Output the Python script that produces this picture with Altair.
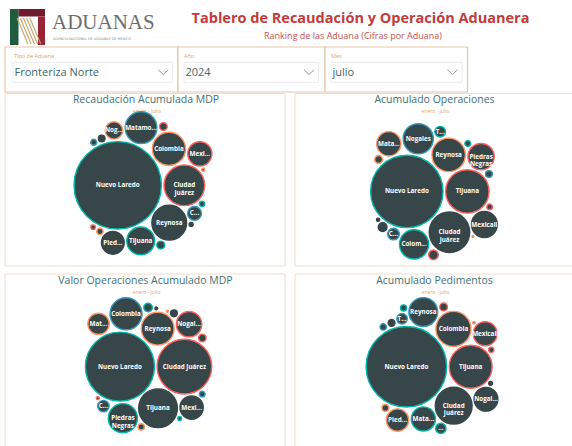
import math
import altair as alt
import pandas as pd

W, H = 572, 446

# ---------------- data ----------------
header_title = "Tablero de Recaudación y Operación Aduanera"
header_subtitle = "Ranking de las Aduana (Cifras por Aduana)"
logo_word = "ADUANAS"
logo_sub = "AGENCIA NACIONAL DE ADUANAS DE MÉXICO"

slicer_labels = ["Tipo de Aduana", "Año", "Mes"]
slicer_values = ["Fronteriza Norte", "2024", "julio"]
periodo = "enero - julio"

panel_titles = ["Recaudación Acumulada MDP", "Acumulado Operaciones",
                "Valor Operaciones Acumulado MDP", "Acumulado Pedimentos"]

# Recaudación Acumulada MDP
rec_names = ["Nuevo Laredo", "Ciudad Juárez", "Reynosa", "Colombia", "Matamoros",
             "Tijuana", "Mexicali", "Piedras Negras", "Nogales", "Ciudad Acuña",
             "Tecate", "Agua Prieta", "San Luis Río Colorado", "Ojinaga", "Sonoyta",
             "Ciudad Camargo", "Ciudad Miguel Alemán", "Naco", "Puerto Palomas"]
rec_values = [77440, 16810, 12250, 11160, 10240, 7840, 5950, 5290, 3100, 1960,
              640, 610, 440, 410, 360, 290, 210, 160, 90]
rec_labels = ["Nuevo Laredo", "Ciudad\nJuárez", "Reynosa", "Colombia", "Matamo...",
              "Tijuana", "Mexi...", "Pied...", "Nog...", "C...",
              "", "", "", "", "", "", "", "", ""]

# Acumulado Operaciones
ope_names = ["Nuevo Laredo", "Tijuana", "Ciudad Juárez", "Reynosa", "Nogales",
             "Colombia", "Piedras Negras", "Mexicali", "Matamoros", "Ciudad Acuña",
             "Tecate", "San Luis Río Colorado", "Agua Prieta", "Ojinaga", "Sonoyta",
             "Ciudad Camargo", "Naco", "Ciudad Miguel Alemán", "Puerto Palomas"]
ope_values = [968700, 348100, 302800, 207100, 168200, 157500, 127600, 123800, 109400,
              25200, 21200, 17500, 14200, 11200, 8600, 6300, 6000, 2000, 700]
ope_labels = ["Nuevo Laredo", "Tijuana", "Ciudad\nJuárez", "Reynosa", "Nogales",
              "Colom...", "Piedras\nNegras", "Mexicali", "Mata...", "C...",
              "T...", "", "", "", "", "", "", "", ""]

# Valor Operaciones Acumulado MDP
val_names = ["Nuevo Laredo", "Ciudad Juárez", "Tijuana", "Reynosa", "Colombia",
             "Piedras Negras", "Nogales", "Mexicali", "Matamoros", "Ciudad Acuña",
             "Tecate", "San Luis Río Colorado", "Agua Prieta", "Sonoyta", "Ojinaga",
             "Naco", "Ciudad Camargo", "Ciudad Miguel Alemán", "Puerto Palomas"]
val_values = [786300, 494200, 247300, 177500, 169300, 140500, 106100, 89300, 75300,
              21600, 12200, 9600, 7400, 6500, 5400, 2400, 1400, 1200, 600]
val_labels = ["Nuevo Laredo", "Ciudad Juárez", "Tijuana", "Reynosa", "Colombia",
              "Piedras\nNegras", "Nogal...", "Mexi...", "Mat...", "C...",
              "", "", "", "", "", "", "", "", ""]

# Acumulado Pedimentos
ped_names = ["Nuevo Laredo", "Tijuana", "Ciudad Juárez", "Colombia", "Reynosa",
             "Matamoros", "Mexicali", "Nogales", "Piedras Negras", "Tecate",
             "San Luis Río Colorado", "Ciudad Acuña", "Agua Prieta", "Sonoyta",
             "Ojinaga", "Naco", "Ciudad Camargo", "Ciudad Miguel Alemán", "Puerto Palomas"]
ped_values = [852800, 242000, 178600, 162000, 109500, 76900, 75600, 74400, 66100,
              14600, 14000, 8000, 6100, 6000, 5400, 5100, 3600, 2000, 800]
ped_labels = ["Nuevo Laredo", "Tijuana", "Ciudad\nJuárez", "Colombia", "Reynosa",
              "Mata...", "Mexicali", "Nogal...", "Pied...", "T...",
              "...", "", "", "", "", "", "", "", ""]

# ---------------- styles / layout ----------------
PALETTE = ["#01B8AA", "#FD625E", "#374649", "#FE9666", "#3599B8"]
BUBBLE_FILL = "#374649"
PANEL_BORDER = "#F3DCCA"
SLICER_BORDER = "#E8C7A6"
TITLE_COLOR = "#3F7077"
ORANGE_TXT = "#E3A272"

panels = [
    dict(title=panel_titles[0], names=rec_names, values=rec_values, labels=rec_labels,
         rect=(5, 93.5, 285, 266), cx=143, cy=183.3, h=143, tx=146, ty=100),
    dict(title=panel_titles[1], names=ope_names, values=ope_values, labels=ope_labels,
         rect=(295, 93.5, 575, 266), cx=434, cy=191.7, h=136, tx=434.5, ty=100),
    dict(title=panel_titles[2], names=val_names, values=val_values, labels=val_labels,
         rect=(5, 274, 285, 450), cx=148.6, cy=365.3, h=135, tx=145.5, ty=281.5),
    dict(title=panel_titles[3], names=ped_names, values=ped_values, labels=ped_labels,
         rect=(295, 274, 575, 450), cx=432, cy=365.6, h=136, tx=434.5, ty=281.5),
]


# ---------------- circle packing (front-chain, as d3.packSiblings) ----------------
class _Node:
    def __init__(self, c):
        self.c = c
        self.nxt = None
        self.prv = None


def _place(b, a, c):
    dx = b[0] - a[0]
    dy = b[1] - a[1]
    d2 = dx * dx + dy * dy
    if d2:
        a2 = (a[2] + c[2]) ** 2
        b2 = (b[2] + c[2]) ** 2
        if a2 > b2:
            x = (d2 + b2 - a2) / (2 * d2)
            y = math.sqrt(max(0.0, b2 / d2 - x * x))
            c[0] = b[0] - x * dx - y * dy
            c[1] = b[1] - x * dy + y * dx
        else:
            x = (d2 + a2 - b2) / (2 * d2)
            y = math.sqrt(max(0.0, a2 / d2 - x * x))
            c[0] = a[0] + x * dx - y * dy
            c[1] = a[1] + x * dy + y * dx
    else:
        c[0] = a[0] + c[2]
        c[1] = a[1]


def _intersects(a, b):
    dr = a[2] + b[2] - 1e-6
    dx = b[0] - a[0]
    dy = b[1] - a[1]
    return dr > 0 and dr * dr > dx * dx + dy * dy


def _score(node):
    a = node.c
    b = node.nxt.c
    ab = a[2] + b[2]
    dx = (a[0] * b[2] + b[0] * a[2]) / ab
    dy = (a[1] * b[2] + b[1] * a[2]) / ab
    return dx * dx + dy * dy


def pack_siblings(radii):
    circles = [[0.0, 0.0, r] for r in radii]
    n = len(circles)
    a = circles[0]
    if n == 1:
        return circles
    b = circles[1]
    a[0] = -b[2]
    b[0] = a[2]
    b[1] = 0.0
    if n == 2:
        return circles
    c = circles[2]
    _place(b, a, c)
    A, B, C = _Node(a), _Node(b), _Node(c)
    A.nxt = B; C.prv = B
    B.nxt = C; A.prv = C
    C.nxt = A; B.prv = A
    i = 3
    while i < n:
        cc = circles[i]
        _place(A.c, B.c, cc)
        C = _Node(cc)
        j = B.nxt
        k = A.prv
        sj = B.c[2]
        sk = A.c[2]
        hit = False
        while True:
            if sj <= sk:
                if _intersects(j.c, C.c):
                    B = j; A.nxt = B; B.prv = A
                    hit = True
                    break
                sj += j.c[2]
                j = j.nxt
            else:
                if _intersects(k.c, C.c):
                    A = k; A.nxt = B; B.prv = A
                    hit = True
                    break
                sk += k.c[2]
                k = k.prv
            if j is k.nxt:
                break
        if hit:
            continue
        C.prv = A
        C.nxt = B
        B.prv = C
        A.nxt = C
        B = C
        aa = _score(A)
        node = C.nxt
        while node is not B:
            ca = _score(node)
            if ca < aa:
                A = node
                aa = ca
            node = node.nxt
        B = A.nxt
        i += 1
    return circles


def bubble_layout(values, cx, cy, target_h, gap=2.6):
    order = sorted(range(len(values)), key=lambda i: -values[i])
    sq = [math.sqrt(values[i]) for i in order]
    s = target_h / (2.3 * math.sqrt(sum(values)))
    for _ in range(15):
        circ = pack_siblings([s * q + gap / 2 for q in sq])
        top = min(c[1] - s * q for c, q in zip(circ, sq))
        bot = max(c[1] + s * q for c, q in zip(circ, sq))
        s *= target_h / (bot - top)
    circ = pack_siblings([s * q + gap / 2 for q in sq])
    left = min(c[0] - s * q for c, q in zip(circ, sq))
    right = max(c[0] + s * q for c, q in zip(circ, sq))
    top = min(c[1] - s * q for c, q in zip(circ, sq))
    bot = max(c[1] + s * q for c, q in zip(circ, sq))
    ox = cx - (left + right) / 2
    oy = cy - (top + bot) / 2
    pos = {}
    for rank, (idx, c) in enumerate(zip(order, circ)):
        pos[idx] = (c[0] + ox, c[1] + oy, rank)
    return pos, s


X = alt.X("x:Q", scale=alt.Scale(domain=[0, W], nice=False, zero=False), axis=None)
Y = alt.Y("y:Q", scale=alt.Scale(domain=[0, H], nice=False, zero=False, reverse=True), axis=None)
X2 = alt.X2("x2:Q")
Y2 = alt.Y2("y2:Q")


def rects(rows, **style):
    df = pd.DataFrame(rows, columns=["x", "y", "x2", "y2"])
    return alt.Chart(df).mark_rect(**style).encode(x=X, y=Y, x2=X2, y2=Y2)


def rules(rows, **style):
    df = pd.DataFrame(rows, columns=["x", "y", "x2", "y2"])
    return alt.Chart(df).mark_rule(**style).encode(x=X, y=Y, x2=X2, y2=Y2)


def texts(rows, **style):
    df = pd.DataFrame(rows, columns=["x", "y", "text"])
    return alt.Chart(df).mark_text(**style).encode(x=X, y=Y, text="text:N")


layers = []

# ---------- panels (backgrounds) ----------
layers.append(rects([p["rect"] for p in panels], fill="white", stroke=PANEL_BORDER, strokeWidth=1))

# ---------- header ----------
# logo
layers.append(rects([(10, 9, 18.5, 45)], fill="#1F5B3F"))
layers.append(rects([(18.5, 9, 45, 16.5)], fill="#6E1B2E"))
layers.append(rects([(38, 16.5, 45, 45)], fill="#9B2335"))
layers.append(rules([(17 + 3.2 * i, 18, 28 + 3.2 * i, 44) for i in range(5)],
                    color="#C9A267", strokeWidth=1.1))
layers.append(texts([(52, 29, logo_word)], font="Liberation Serif", fontSize=21,
                    color="#6E6E6E", align="left", baseline="alphabetic"))
layers.append(texts([(53, 38.5, logo_sub)], font="DejaVu Sans", fontSize=3.4,
                    color="#8A8A8A", align="left", baseline="middle"))
layers.append(texts([(360.5, 18.5, header_title)], font="Open Sans", fontSize=14.5,
                    fontWeight="bold", color="#C23B3D", align="center", baseline="middle"))
layers.append(texts([(353, 35.5, header_subtitle)], font="Open Sans", fontSize=9,
                    color="#C5504E", align="center", baseline="middle"))

# ---------- slicers ----------
slicer_boxes = [(5, 47, 178, 92), (178, 47, 325, 92), (325, 47, 467.5, 92)]
dropdowns = [(13, 62.3, 172.7, 82.3), (184, 62.3, 318.5, 82.3), (331, 62.3, 462, 82.3)]
layers.append(rects(slicer_boxes, fill="white", stroke=SLICER_BORDER, strokeWidth=1.2))
layers.append(rects(dropdowns, fill="white", stroke="#ECECEC", strokeWidth=1))
layers.append(texts([(b[0] + 9 if i == 0 else b[0] + 6, 55.5, t)
                     for i, (b, t) in enumerate(zip(slicer_boxes, slicer_labels))],
                    font="Open Sans", fontSize=5.5, color=ORANGE_TXT, align="left", baseline="middle"))
layers.append(texts([(d[0] + 1.5, 73, t) for d, t in zip(dropdowns, slicer_values)],
                    font="Open Sans", fontSize=11, color="#3A6A6D", align="left", baseline="middle"))
chev = []
for d in dropdowns:
    cxv = d[2] - 9.5
    chev.append((cxv - 5, 69.8, cxv, 74.5))
    chev.append((cxv, 74.5, cxv + 5, 69.8))
layers.append(rules(chev, color="#8C8C8C", strokeWidth=0.9))

# ---------- panel titles ----------
layers.append(texts([(p["tx"], p["ty"] - 0.5, p["title"]) for p in panels],
                    font="Open Sans", fontSize=10.5, color=TITLE_COLOR, align="center", baseline="middle"))
layers.append(texts([(p["tx"] + 1, p["ty"] + 10.5, periodo) for p in panels],
                    font="Open Sans", fontSize=5, color=ORANGE_TXT, align="center", baseline="middle"))

# ---------- bubbles ----------
bubble_layers = []
for p in panels:
    pos, s = bubble_layout(p["values"], p["cx"], p["cy"], p["h"])
    rows = []
    for i, (nm, v, lb) in enumerate(zip(p["names"], p["values"], p["labels"])):
        x, y, rank = pos[i]
        rows.append(dict(aduana=nm, value=v, label=lb, x=x, y=y,
                         borde=PALETTE[rank % len(PALETTE)]))
    df = pd.DataFrame(rows)
    vmax = max(p["values"])
    # Vega symbol size is the area of the bounding square: (2r)^2
    size_scale = alt.Scale(domain=[0, vmax], range=[0, (2 * s * math.sqrt(vmax)) ** 2], zero=True)
    circles = alt.Chart(df).mark_circle(opacity=1, fill=BUBBLE_FILL, strokeWidth=1.4).encode(
        x=X, y=Y,
        size=alt.Size("value:Q", scale=size_scale, legend=None),
        stroke=alt.Stroke("borde:N", scale=None),
        tooltip=["aduana:N", "value:Q"],
    )
    labels = alt.Chart(df).mark_text(font="Open Sans", fontSize=6.3, fontWeight="bold",
                                     color="white", lineBreak="\n", lineHeight=7.5,
                                     align="center", baseline="middle").encode(
        x=X, y=Y, text="label:N")
    bubble_layers.append(alt.layer(circles, labels))

chart = alt.layer(*layers, *bubble_layers).resolve_scale(size="independent").properties(
    width=W, height=H, padding=0, autosize=alt.AutoSizeParams(type="none"),
    background="white",
).configure_view(stroke=None, strokeWidth=0)

chart.save("out.html", embed_options={"renderer": "svg", "actions": False})
